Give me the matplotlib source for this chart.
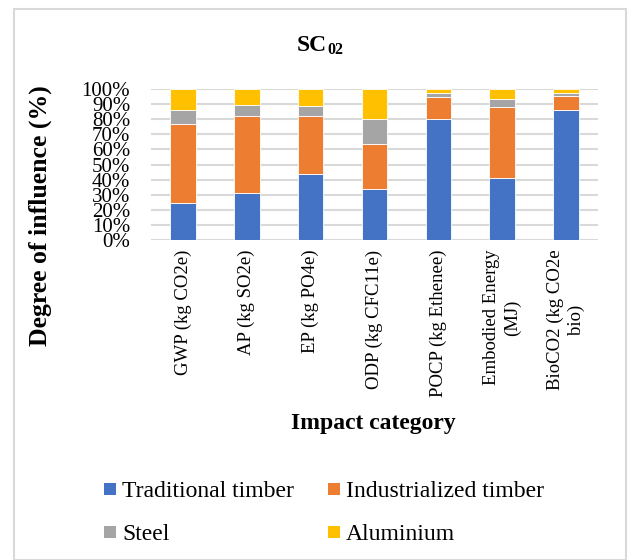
import matplotlib
matplotlib.use('Agg')
import matplotlib.pyplot as plt
from matplotlib.patches import Rectangle
import numpy as np

plt.rcParams['font.family'] = ['Liberation Serif', 'DejaVu Serif']

categories = ['GWP (kg CO2e)', 'AP (kg SO2e)', 'EP (kg PO4e)', 'ODP (kg CFC11e)',
              'POCP (kg Ethenee)', 'Embodied Energy\n(MJ)', 'BioCO2 (kg CO2e\nbio)']
traditional = [24.2, 31.0, 43.7, 33.8, 80.2, 40.9, 86.4]
industrialized = [52.9, 51.4, 38.7, 29.7, 14.7, 47.2, 9.0]
steel = [9.3, 7.3, 6.6, 16.9, 2.2, 5.3, 1.7]
aluminium = [13.6, 10.3, 11.0, 19.6, 2.9, 6.6, 2.9]

series = [('Traditional timber', traditional, '#4472C4'),
          ('Industrialized timber', industrialized, '#ED7D31'),
          ('Steel', steel, '#A5A5A5'),
          ('Aluminium', aluminium, '#FFC000')]

W, H = 628, 560
fig = plt.figure(figsize=(W / 100, H / 100), dpi=100)

# outer chart border
fig.patches.append(Rectangle((14 / W, 0), 612 / W, 551 / H, transform=fig.transFigure,
                             fill=False, edgecolor='#d9d9d9', linewidth=1.5))

ax = fig.add_axes([151 / W, 320 / H, 447 / W, 151 / H])
x = np.arange(len(categories))
bottom = np.zeros(len(categories))
for name, vals, color in series:
    v = np.array(vals) / 100
    ax.bar(x, v, width=0.4, bottom=bottom, color=color, label=name,
           edgecolor='white', linewidth=0.6, zorder=3)
    bottom += v

ax.set_xlim(-0.5, len(categories) - 0.5)
ax.set_ylim(0, 1)
ticks = np.linspace(0, 1, 11)
ax.set_yticks(ticks)
ax.set_yticklabels([f'{int(round(t * 100))}%' for t in ticks], fontsize=15)
ax.yaxis.grid(True, color='#d9d9d9', linewidth=1.5, zorder=0)
ax.set_axisbelow(True)
for s in ax.spines.values():
    s.set_visible(False)
ax.tick_params(axis='y', length=0, pad=15)
ax.tick_params(axis='x', length=0, pad=7)
ax.set_xticks(x)
ax.set_xticklabels(categories, rotation=90, fontsize=13.5, multialignment='center',
                   linespacing=1.25)

fig.text(40 / W, 1 - 216 / H, 'Degree of influence (%)', rotation=90, ha='center', va='center',
         fontsize=18.5, fontweight='bold')
fig.text(373 / W, 1 - 424 / H, 'Impact category', ha='center', va='center',
         fontsize=17, fontweight='bold')

# title with subscript
fig.text(327 / W, 1 - 51 / H, 'SC', ha='right', va='baseline', fontsize=17, fontweight='bold')
fig.text(327 / W, 1 - 54 / H, '02', ha='left', va='baseline', fontsize=11.5, fontweight='bold')

# two-column legend, filled row by row
key_x = [104, 328]
key_y = [489, 532]
for i, (name, vals, color) in enumerate(series):
    kx, ky = key_x[i % 2], key_y[i // 2]
    fig.patches.append(Rectangle((kx / W, 1 - (ky + 6) / H), 12 / W, 12 / H,
                                 transform=fig.transFigure, facecolor=color, edgecolor='none'))
    fig.text((kx + 18) / W, 1 - ky / H, name, ha='left', va='center_baseline',
             fontsize=17, family='Liberation Serif')

fig.savefig('out.png', dpi=100)
